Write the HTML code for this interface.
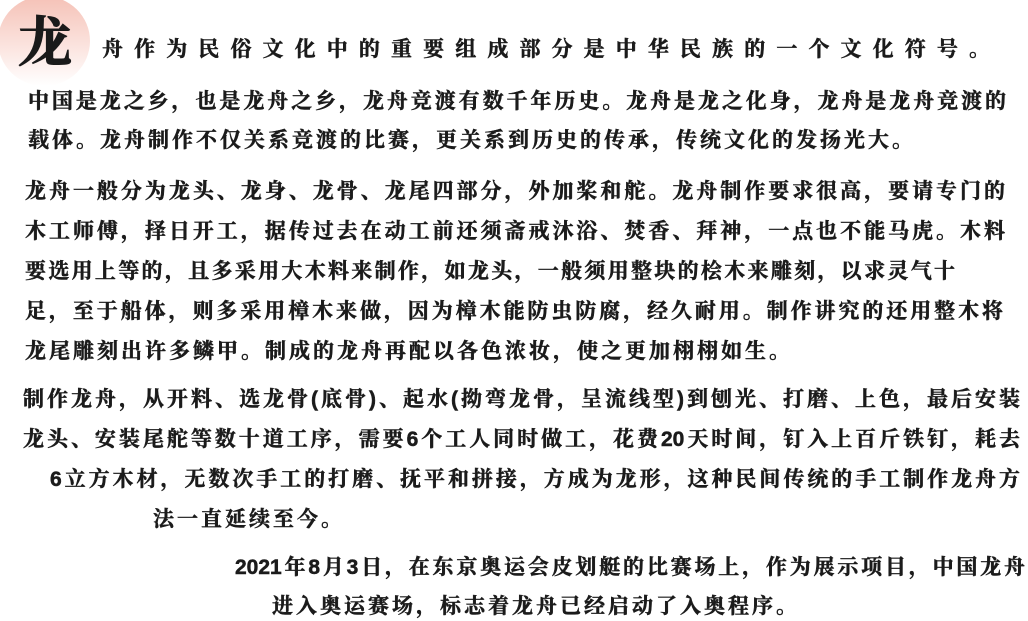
<!DOCTYPE html>
<html><head><meta charset="utf-8">
<style>
html,body{margin:0;padding:0;background:#fff;}
body{width:1028px;height:621px;position:relative;overflow:hidden;font-family:"Liberation Sans","Noto Serif CJK SC","Noto Sans CJK SC",serif;color:#1b1b1b;font-weight:bold;}
.l{position:absolute;font-size:21px;line-height:28px;height:28px;white-space:nowrap;text-align:justify;text-align-last:justify;-webkit-text-stroke:0.5px #1b1b1b;}
.s{text-align:left;text-align-last:left;letter-spacing:3px;}
.circle{position:absolute;left:-2px;top:-4px;width:92px;height:90px;border-radius:50%;background:linear-gradient(180deg,#f5c1b6 0%,#fbe3de 55%,#fff 100%);}
.big{position:absolute;left:18px;top:6px;font-size:54px;line-height:66px;font-family:"Noto Serif CJK SC",serif;font-weight:bold;color:#1a1a1a;-webkit-text-stroke:1px #1a1a1a;}
</style></head><body>
<div class="circle"></div>
<div class="big">龙</div>
<div class="l" style="left:102px;top:36px;width:888px;">舟作为民俗文化中的重要组成部分是中华民族的一个文化符号。</div>
<div class="l" style="left:28px;top:88px;width:978px;">中国是龙之乡，也是龙舟之乡，龙舟竞渡有数千年历史。龙舟是龙之化身，龙舟是龙舟竞渡的</div>
<div class="l s" style="left:28px;top:127px;">载体。龙舟制作不仅关系竞渡的比赛，更关系到历史的传承，传统文化的发扬光大。</div>
<div class="l" style="left:25px;top:178px;width:980px;">龙舟一般分为龙头、龙身、龙骨、龙尾四部分，外加桨和舵。龙舟制作要求很高，要请专门的</div>
<div class="l" style="left:25px;top:218px;width:980px;">木工师傅，择日开工，据传过去在动工前还须斋戒沐浴、焚香、拜神，一点也不能马虎。木料</div>
<div class="l" style="left:25px;top:258px;width:930px;">要选用上等的，且多采用大木料来制作，如龙头，一般须用整块的桧木来雕刻，以求灵气十</div>
<div class="l" style="left:25px;top:298px;width:978px;">足，至于船体，则多采用樟木来做，因为樟木能防虫防腐，经久耐用。制作讲究的还用整木将</div>
<div class="l s" style="left:25px;top:338px;">龙尾雕刻出许多鳞甲。制成的龙舟再配以各色浓妆，使之更加栩栩如生。</div>
<div class="l" style="left:23px;top:386px;width:997px;">制作龙舟，从开料、选龙骨(底骨)、起水(拗弯龙骨，呈流线型)到刨光、打磨、上色，最后安装</div>
<div class="l" style="left:23px;top:426px;width:997px;">龙头、安装尾舵等数十道工序，需要6个工人同时做工，花费20天时间，钉入上百斤铁钉，耗去</div>
<div class="l" style="left:50px;top:466px;width:970px;">6立方木材，无数次手工的打磨、抚平和拼接，方成为龙形，这种民间传统的手工制作龙舟方</div>
<div class="l s" style="left:153px;top:506px;">法一直延续至今。</div>
<div class="l" style="left:235px;top:554px;width:790px;">2021年8月3日，在东京奥运会皮划艇的比赛场上，作为展示项目，中国龙舟</div>
<div class="l s" style="left:272px;top:593px;">进入奥运赛场，标志着龙舟已经启动了入奥程序。</div>
</body></html>
